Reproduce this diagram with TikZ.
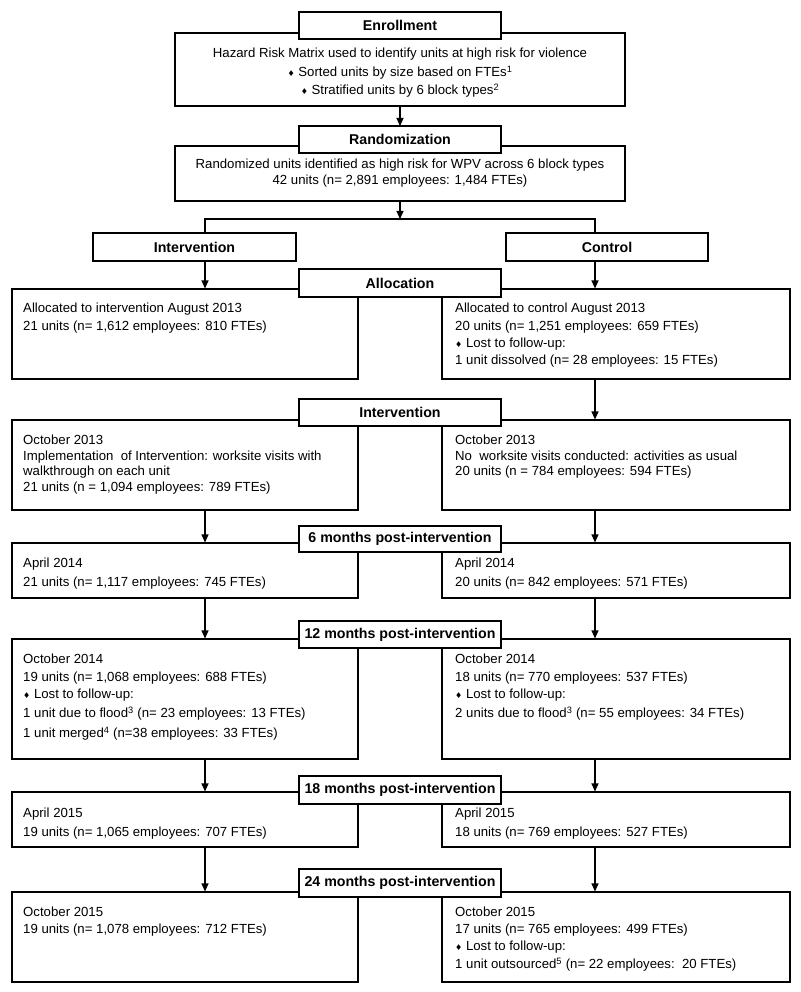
\documentclass[tikz,border=0pt]{standalone}
\usepackage{fontspec}
\setmainfont{Liberation Sans}
\newfontfamily\djv{DejaVu Sans}
\usetikzlibrary{arrows.meta}
\newcommand\dmd{{\djv\fontsize{8}{8}\selectfont ♦}}
\begin{document}
\begin{tikzpicture}[x=1pt,y=-1pt,
  box/.style={draw, line width=1.1pt, inner sep=0},
  hdr/.style={draw, fill=white, line width=1.1pt, inner sep=0, font=\bfseries\fontsize{14.2}{16}\selectfont},
  txt/.style={anchor=base west, inner sep=0, font=\fontsize{13.2}{15}\selectfont},
  ctxt/.style={anchor=base, inner sep=0, font=\fontsize{13.2}{15}\selectfont},
  arr/.style={line width=1.1pt, -{Triangle[length=8pt,width=7pt]}},
  ln/.style={line width=1.1pt}]
\useasboundingbox (0,0) rectangle (800,992);
\newcommand\tx[4]{\node[txt] (#1) at (#2,#3+4.7) {#4};}
% main boxes
\node[box, minimum width=450pt, minimum height=73pt] (enb) at (400,69.5) {};
\node[box, minimum width=450pt, minimum height=55pt] (rnb) at (400,173.5) {};
\node[hdr, minimum width=203pt, minimum height=28pt] (ig) at (194.5,247) {Intervention};
\node[hdr, minimum width=202pt, minimum height=28pt] (cg) at (607,247) {Control};
\node[box, minimum width=346pt, minimum height=90pt] (al) at (185,334) {};
\node[box, minimum width=348pt, minimum height=90pt] (ar) at (616,334) {};
\node[box, minimum width=346pt, minimum height=90pt] (il) at (185,465) {};
\node[box, minimum width=348pt, minimum height=90pt] (ir) at (616,465) {};
\node[box, minimum width=346pt, minimum height=55pt] (sl) at (185,570.5) {};
\node[box, minimum width=348pt, minimum height=55pt] (sr) at (616,570.5) {};
\node[box, minimum width=346pt, minimum height=120pt] (tl) at (185,699) {};
\node[box, minimum width=348pt, minimum height=120pt] (tr) at (616,699) {};
\node[box, minimum width=346pt, minimum height=55pt] (el) at (185,819.5) {};
\node[box, minimum width=348pt, minimum height=55pt] (er) at (616,819.5) {};
\node[box, minimum width=346pt, minimum height=90pt] (fl) at (185,937) {};
\node[box, minimum width=348pt, minimum height=90pt] (fr) at (616,937) {};
% connectors
\coordinate (bl) at (205,219);
\coordinate (bm) at (400,219);
\coordinate (bR) at (595,219);
\draw[arr] (enb.south) -- (400,126) coordinate (rtop);
\draw[arr] (rnb.south) -- (bm);
\draw[ln] (bl |- ig.north) -- (bl) -- (bR) -- (bR |- cg.north);
\draw[arr] (bl |- ig.south) -- (bl |- al.north);
\draw[arr] (bR |- cg.south) -- (bR |- ar.north);
\draw[arr] (bR |- ar.south) -- (bR |- ir.north);
\foreach \a/\b in {il/sl, sl/tl, tl/el, el/fl}
  \draw[arr] (bl |- \a.south) -- (bl |- \b.north);
\foreach \a/\b in {ir/sr, sr/tr, tr/er, er/fr}
  \draw[arr] (bR |- \a.south) -- (bR |- \b.north);
% headers
\node[hdr, minimum width=202pt, minimum height=27pt] (enh) at (400,25.5) {Enrollment};
\node[hdr, minimum width=202pt, minimum height=27pt] (rnh) at (400,139.5) {Randomization};
\node[hdr, minimum width=202pt, minimum height=28pt] (alh) at (400,283) {Allocation};
\node[hdr, minimum width=202pt, minimum height=27pt] (inh) at (400,412.5) {Intervention};
\node[hdr, minimum width=202pt, minimum height=26pt] (smh) at (400,539) {6 months post-intervention};
\node[hdr, minimum width=202pt, minimum height=27pt] (tmh) at (400,634.5) {12 months post-intervention};
\node[hdr, minimum width=202pt, minimum height=28pt] (emh) at (400,790) {18 months post-intervention};
\node[hdr, minimum width=202pt, minimum height=28pt] (fmh) at (400,883) {24 months post-intervention};
% texts
\node[ctxt] (e1) at (400,57.7) {Hazard Risk Matrix used to identify units at high risk for violence};
\node[ctxt] (e2) at (400,76.7) {\dmd\ Sorted units by size based on FTEs\textsuperscript{1}};
\node[ctxt] (e3) at (400,94.7) {\dmd\ Stratified units by 6 block types\textsuperscript{2}};
\node[ctxt] (r1) at (400,168.7) {Randomized units identified as high risk for WPV across 6 block types};
\node[ctxt] (r2) at (400,184.7) {42 units (n= 2,891 employees: 1,484 FTEs)};
\tx{a1}{23}{308}{Allocated to intervention August 2013}
\tx{a2}{23}{326}{21 units (n= 1,612 employees: 810 FTEs)}
\tx{b1}{455}{308}{Allocated to control August 2013}
\tx{b2}{455}{326}{20 units (n= 1,251 employees: 659 FTEs)}
\tx{b3}{455}{343}{\dmd\ Lost to follow-up:}
\tx{b4}{455}{360}{1 unit dissolved (n= 28 employees: 15 FTEs)}
\tx{c1}{23}{440}{October 2013}
\tx{c2}{23}{456}{Implementation\ \ of Intervention: worksite visits with}
\tx{c3}{23}{471}{walkthrough on each unit}
\tx{c4}{23}{487}{21 units (n = 1,094 employees: 789 FTEs)}
\tx{d1}{455}{440}{October 2013}
\tx{d2}{455}{456}{No\ \ worksite visits conducted: activities as usual}
\tx{d3}{455}{471}{20 units (n = 784 employees: 594 FTEs)}
\tx{f1}{23}{563}{April 2014}
\tx{f2}{23}{582}{21 units (n= 1,117 employees: 745 FTEs)}
\tx{g1}{455}{563}{April 2014}
\tx{g2}{455}{582}{20 units (n= 842 employees: 571 FTEs)}
\tx{h1}{23}{659}{October 2014}
\tx{h2}{23}{677}{19 units (n= 1,068 employees: 688 FTEs)}
\tx{h3}{23}{694}{\dmd\ Lost to follow-up:}
\tx{h4}{23}{713}{1 unit due to flood\textsuperscript{3} (n= 23 employees: 13 FTEs)}
\tx{h5}{23}{733}{1 unit merged\textsuperscript{4} (n=38 employees: 33 FTEs)}
\tx{k1}{455}{659}{October 2014}
\tx{k2}{455}{677}{18 units (n= 770 employees: 537 FTEs)}
\tx{k3}{455}{694}{\dmd\ Lost to follow-up:}
\tx{k4}{455}{713}{2 units due to flood\textsuperscript{3} (n= 55 employees: 34 FTEs)}
\tx{m1}{23}{813}{April 2015}
\tx{m2}{23}{832}{19 units (n= 1,065 employees: 707 FTEs)}
\tx{n1}{455}{813}{April 2015}
\tx{n2}{455}{832}{18 units (n= 769 employees: 527 FTEs)}
\tx{p1}{23}{912}{October 2015}
\tx{p2}{23}{929}{19 units (n= 1,078 employees: 712 FTEs)}
\tx{q1}{455}{912}{October 2015}
\tx{q2}{455}{929}{17 units (n= 765 employees: 499 FTEs)}
\tx{q3}{455}{946}{\dmd\ Lost to follow-up:}
\tx{q4}{455}{964}{1 unit outsourced\textsuperscript{5} (n= 22 employees:\ \ 20 FTEs)}
\end{tikzpicture}
\end{document}
